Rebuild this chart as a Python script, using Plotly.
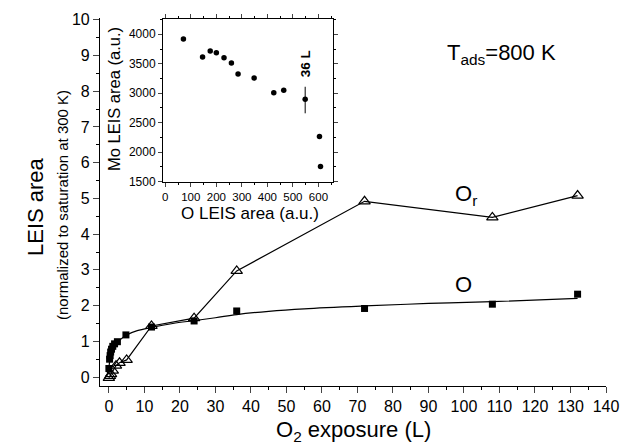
import plotly.graph_objects as go

# Main chart data
o_x = [0, 0.2, 0.35, 0.5, 0.75, 1.1, 1.6, 2.4, 4.8, 12, 24, 36, 72, 108, 132]
o_y = [0.24, 0.5, 0.6, 0.7, 0.78, 0.86, 0.93, 0.99, 1.18, 1.4, 1.57, 1.85, 1.92, 2.04, 2.32]

fit_x = [0, 0.3, 0.6, 1, 1.5, 2.5, 5, 8, 12, 18, 24, 30, 36, 45, 55, 72, 90, 108, 132]
fit_y = [0.24, 0.5, 0.65, 0.78, 0.88, 0.99, 1.18, 1.3, 1.39, 1.5, 1.58, 1.66, 1.75, 1.84, 1.91, 1.99, 2.06, 2.11, 2.2]

or_x = [0, 0.3, 0.6, 1.1, 2.0, 3.0, 5, 12, 24, 36, 72, 108, 132]
or_y = [-0.02, 0.03, 0.08, 0.18, 0.32, 0.4, 0.48, 1.43, 1.65, 2.97, 4.92, 4.47, 5.08]

# Inset data
ins_x = [71, 146, 176, 200, 230, 259, 285, 348, 425, 464, 604, 608]
ins_y = [3920, 3615, 3717, 3688, 3603, 3513, 3327, 3259, 3010, 3050, 2265, 1756]
err_x = [548]
err_y = [2900]
err_plus = [210]
err_minus = [240]

x_ticks = list(range(0, 141, 10))
y_ticks = list(range(0, 11, 1))
ins_xticks = [0, 100, 200, 300, 400, 500, 600]
ins_yticks = [1500, 2000, 2500, 3000, 3500, 4000]

FONT = "Liberation Sans, Arial, sans-serif"

# plot-area geometry in pixels (for placing outside texts)
L, R, T, B = 100, 17, 18, 61
W, H = 623 - L - R, 447 - T - B


def px(xp):
    return (xp - L) / W


def py(yp):
    return (447 - B - yp) / H


fig = go.Figure()

fig.add_trace(go.Scatter(x=fit_x, y=fit_y, mode="lines", line_shape="spline",
                         line=dict(color="black", width=1.2), showlegend=False))
fig.add_trace(go.Scatter(x=or_x, y=or_y, mode="lines+markers",
                         line=dict(color="black", width=1.2),
                         marker=dict(symbol="triangle-up-open", size=10, color="black",
                                     line=dict(width=1.2)),
                         showlegend=False))
fig.add_trace(go.Scatter(x=o_x, y=o_y, mode="markers",
                         marker=dict(symbol="square", size=7, color="black"),
                         showlegend=False))

# Inset
fig.add_trace(go.Scatter(x=ins_x, y=ins_y, mode="markers", xaxis="x2", yaxis="y2",
                         marker=dict(symbol="circle", size=5.5, color="black"),
                         showlegend=False))
fig.add_trace(go.Scatter(x=err_x, y=err_y, mode="markers", xaxis="x2", yaxis="y2",
                         marker=dict(symbol="circle", size=5.5, color="black"),
                         error_y=dict(type="data", array=err_plus, arrayminus=err_minus,
                                      color="black", thickness=1, width=0),
                         showlegend=False))

fig.update_layout(
    width=623, height=447,
    margin=dict(l=L, r=R, t=T, b=B, autoexpand=False),
    paper_bgcolor="white", plot_bgcolor="white",
    font=dict(family=FONT, color="black"),
    xaxis=dict(range=[-2.5, 140], tickvals=x_ticks, showgrid=False, zeroline=False,
               showline=True, linecolor="black", linewidth=1.2, automargin=False,
               ticks="outside", ticklen=6, tickwidth=1.2,
               minor=dict(dtick=5, ticks="outside", ticklen=3, tickcolor="black"),
               tickfont=dict(size=16), domain=[0, 1]),
    yaxis=dict(range=[-0.25, 10.05], tickvals=y_ticks, showgrid=False, zeroline=False,
               showline=True, linecolor="black", linewidth=1.2, automargin=False,
               ticks="outside", ticklen=6, tickwidth=1.2,
               minor=dict(dtick=0.5, ticks="outside", ticklen=3, tickcolor="black"),
               tickfont=dict(size=16), domain=[0, 1]),
    xaxis2=dict(domain=[px(163), px(333)], anchor="y2", range=[-9, 657],
                tickvals=ins_xticks, showgrid=False, zeroline=False, automargin=False,
                showline=True, mirror="ticks", linecolor="black", linewidth=1,
                ticks="outside", ticklen=4, tickfont=dict(size=11.5),
                minor=dict(dtick=50, ticks="outside", ticklen=2, tickcolor="black")),
    yaxis2=dict(domain=[py(182), py(19)], anchor="x2", range=[1495, 4259],
                tickvals=ins_yticks, showgrid=False, zeroline=False, automargin=False,
                showline=True, mirror="ticks", linecolor="black", linewidth=1,
                ticks="outside", ticklen=4, tickfont=dict(size=12),
                minor=dict(dtick=250, ticks="outside", ticklen=2, tickcolor="black")),
    annotations=[
        dict(text="LEIS area", x=px(35), y=py(207), xref="paper", yref="paper",
             showarrow=False, textangle=-90, font=dict(size=22), xanchor="center", yanchor="middle"),
        dict(text="(normalized to saturation at 300 K)", x=px(62), y=py(205), xref="paper", yref="paper",
             showarrow=False, textangle=-90, font=dict(size=15), xanchor="center", yanchor="middle"),
        dict(text="O<sub>2</sub> exposure (L)", x=px(353), y=py(431), xref="paper", yref="paper",
             showarrow=False, font=dict(size=22), xanchor="center", yanchor="middle"),
        dict(text="O LEIS area (a.u.)", x=px(250), y=py(213), xref="paper", yref="paper",
             showarrow=False, font=dict(size=17), xanchor="center", yanchor="middle"),
        dict(text="Mo LEIS area (a.u.)", x=px(114), y=py(99), xref="paper", yref="paper",
             showarrow=False, textangle=-90, font=dict(size=16.5), xanchor="center", yanchor="middle"),
        dict(text="O", x=100, y=2.6, xref="x", yref="y", showarrow=False, font=dict(size=22)),
        dict(text="O<sub>r</sub>", x=100.5, y=5.1, xref="x", yref="y", showarrow=False, font=dict(size=22)),
        dict(text="T<sub>ads</sub>=800 K", x=110.7, y=9.05, xref="x", yref="y", showarrow=False,
             font=dict(size=22)),
        dict(text="<b>36 L</b>", x=549, y=3500, xref="x2", yref="y2", showarrow=False,
             textangle=-90, font=dict(size=13.5)),
    ],
)

fig.write_html("out.html", config={"displayModeBar": False},
               post_script="document.body.style.margin='0';")
